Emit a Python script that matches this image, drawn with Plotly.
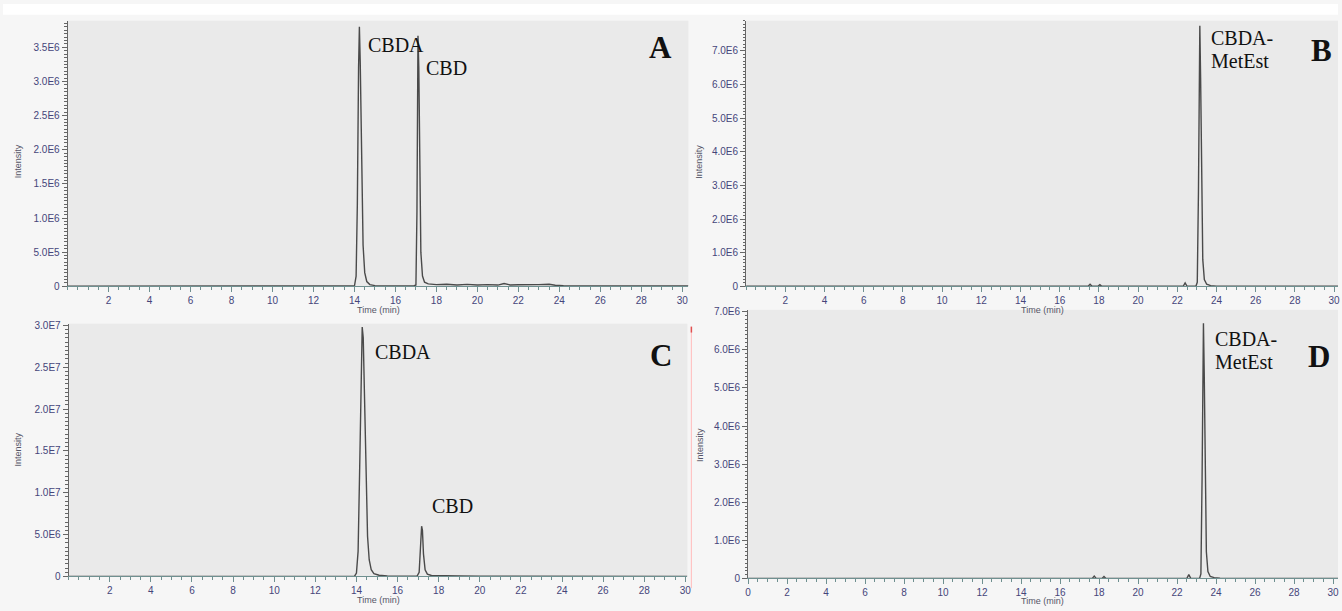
import plotly.graph_objects as go

W, H = 1342, 611

# ---------------- data ----------------
# Panel A : CBDA + CBD
time_A = [0.0, 13.9, 14.0, 14.08, 14.14, 14.2, 14.24, 14.28, 14.34, 14.42, 14.5, 14.6, 14.75, 15.0,
          16.9, 17.0, 17.05, 17.1, 17.14, 17.18, 17.24, 17.32, 17.42, 17.6, 18.0, 18.5, 19.0, 19.5,
          20.0, 20.5, 21.0, 21.3, 21.6, 22.0, 22.5, 23.0, 23.5, 23.8, 24.2, 25.0, 26.0, 27.0, 28.0, 29.0, 30.3]
int_A = [0, 0, 8e3, 1.5e5, 1.2e6, 3.2e6, 3.8e6, 3.3e6, 1.9e6, 6e5, 2e5, 7e4, 2.5e4, 1e4,
         5e3, 2e4, 1.1e6, 3.67e6, 3.2e6, 1.8e6, 5e5, 1.5e5, 6e4, 3.5e4, 2.5e4, 3e4, 2e4, 2.8e4,
         2e4, 2.5e4, 1.8e4, 4e4, 2e4, 2.2e4, 1.8e4, 2.5e4, 3e4, 1.5e4, 1e4, 8e3, 6e3, 8e3, 5e3, 6e3, 4e3]

# Panel B : CBDA methyl ester
time_B = [0.0, 17.45, 17.55, 17.65, 17.95, 18.05, 18.15, 22.3, 22.4, 22.5, 22.95, 23.02, 23.08,
          23.12, 23.15, 23.19, 23.24, 23.3, 23.38, 23.5, 23.7, 24.0, 30.2]
int_B = [0, 0, 6e4, 0, 0, 5e4, 0, 0, 1e5, 0, 0, 1.2e5, 2.8e6,
         6.8e6, 7.75e6, 6.2e6, 2.8e6, 8e5, 2e5, 6e4, 2e4, 5e3, 0]

# Panel C : CBDA + CBD
time_C = [0.0, 13.9, 14.0, 14.08, 14.15, 14.22, 14.28, 14.33, 14.39, 14.46, 14.54, 14.62, 14.72,
          14.85, 15.1, 15.5, 16.95, 17.05, 17.12, 17.17, 17.21, 17.26, 17.34, 17.45, 17.65, 18.0,
          19.0, 20.0, 22.0, 24.0, 26.0, 30.1]
int_C = [0, 0, 4e5, 3e6, 1.2e7, 2.5e7, 2.98e7, 2.85e7, 2.1e7, 1.15e7, 4.8e6, 2e6, 8e5,
         3.5e5, 1.5e5, 6e4, 4e4, 5e5, 3.6e6, 6.0e6, 5.5e6, 2.7e6, 8e5, 2.8e5, 1.2e5, 8e4,
         5e4, 4e4, 2.5e4, 1.5e4, 1e4, 5e3]

# Panel D : CBDA methyl ester
time_D = [0.0, 17.65, 17.75, 17.85, 18.15, 18.25, 18.35, 22.5, 22.6, 22.7, 23.15, 23.22, 23.28,
          23.32, 23.35, 23.39, 23.44, 23.5, 23.58, 23.7, 23.9, 24.2, 30.25]
int_D = [0, 0, 6e4, 0, 0, 5e4, 0, 0, 1e5, 0, 0, 1.2e5, 2.6e6,
         6.0e6, 6.7e6, 5.4e6, 2.4e6, 7e5, 1.8e5, 5e4, 2e4, 5e3, 0]

# tick labels
xtick_vals = [2, 4, 6, 8, 10, 12, 14, 16, 18, 20, 22, 24, 26, 28, 30]
xtick_text = ["2", "4", "6", "8", "10", "12", "14", "16", "18", "20", "22", "24", "26", "28", "30"]
xtick_vals_D = [0, 2, 4, 6, 8, 10, 12, 14, 16, 18, 20, 22, 24, 26, 28, 30]
xtick_text_D = ["0", "2", "4", "6", "8", "10", "12", "14", "16", "18", "20", "22", "24", "26", "28", "30"]

ytick_vals_A = [0, 5e5, 1e6, 1.5e6, 2e6, 2.5e6, 3e6, 3.5e6]
ytick_text_A = ["0", "5.0E5", "1.0E6", "1.5E6", "2.0E6", "2.5E6", "3.0E6", "3.5E6"]
ytick_vals_B = [0, 1e6, 2e6, 3e6, 4e6, 5e6, 6e6, 7e6]
ytick_text_B = ["0", "1.0E6", "2.0E6", "3.0E6", "4.0E6", "5.0E6", "6.0E6", "7.0E6"]
ytick_vals_C = [0, 5e6, 1e7, 1.5e7, 2e7, 2.5e7, 3e7]
ytick_text_C = ["0", "5.0E6", "1.0E7", "1.5E7", "2.0E7", "2.5E7", "3.0E7"]
ytick_vals_D = [0, 1e6, 2e6, 3e6, 4e6, 5e6, 6e6, 7e6]
ytick_text_D = ["0", "1.0E6", "2.0E6", "3.0E6", "4.0E6", "5.0E6", "6.0E6", "7.0E6"]

# ---------------- layout helpers ----------------
def fx(px):
    return px / W

def fy(py):
    return 1 - py / H

TICK_FONT = dict(family="Liberation Sans, Arial, sans-serif", size=10, color="#45457a")
XLINE = "#6f9090"
YLINE = "#666666"
TRACE = "#4a4a4a"

def xaxis(dom, rng, vals, text):
    return dict(domain=dom, range=rng, showgrid=False, zeroline=False, showline=True,
                linecolor=XLINE, linewidth=1, ticks="outside", ticklen=5, tickcolor=XLINE,
                tickmode="array", tickvals=vals, ticktext=text, tickfont=TICK_FONT,
                minor=dict(dtick=0.5, tick0=0, ticks="outside", ticklen=3, tickcolor=XLINE))

def yaxis(dom, rng, vals, text, minor_dt):
    return dict(domain=dom, range=rng, showgrid=False, zeroline=False, showline=True,
                linecolor=YLINE, linewidth=1, ticks="outside", ticklen=5, tickcolor=YLINE,
                tickmode="array", tickvals=vals, ticktext=text, tickfont=TICK_FONT,
                minor=dict(dtick=minor_dt, tick0=0, ticks="outside", ticklen=2.5, tickcolor=YLINE))

fig = go.Figure()
line = dict(color=TRACE, width=1.4)
fig.add_trace(go.Scatter(x=time_A, y=int_A, mode="lines", line=line, xaxis="x", yaxis="y", showlegend=False))
fig.add_trace(go.Scatter(x=time_B, y=int_B, mode="lines", line=line, xaxis="x2", yaxis="y2", showlegend=False))
fig.add_trace(go.Scatter(x=time_C, y=int_C, mode="lines", line=line, xaxis="x3", yaxis="y3", showlegend=False))
fig.add_trace(go.Scatter(x=time_D, y=int_D, mode="lines", line=line, xaxis="x4", yaxis="y4", showlegend=False))

fig.update_layout(
    width=W, height=H, margin=dict(l=0, r=0, t=0, b=0),
    paper_bgcolor="#f6f6f6", plot_bgcolor="#eaeaea",
    xaxis=xaxis([fx(65), fx(689)], [0, 30.3], xtick_vals, xtick_text),
    yaxis=yaxis([fy(287), fy(17)], [0, 3.89e6], ytick_vals_A, ytick_text_A, 5e4),
    xaxis2=xaxis([fx(747), 1.0], [0, 30.2], xtick_vals, xtick_text),
    yaxis2=yaxis([fy(287), fy(17)], [0, 7.9e6], ytick_vals_B, ytick_text_B, 1e5),
    xaxis3=xaxis([fx(66), fx(688)], [0, 30.1], xtick_vals, xtick_text),
    yaxis3=yaxis([fy(582), fy(325)], [0, 3.02e7], ytick_vals_C, ytick_text_C, 5e5),
    xaxis4=xaxis([fx(749), 1.0], [0, 30.25], xtick_vals_D, xtick_text_D),
    yaxis4=yaxis([fy(584), fy(311)], [0, 7.05e6], ytick_vals_D, ytick_text_D, 1e5),
)
for ax in ["", "2", "3", "4"]:
    fig.layout["xaxis" + ax].anchor = "y" + ax
    fig.layout["yaxis" + ax].anchor = "x" + ax

# white strip at the very top and pink edge mark at panel C
fig.add_shape(type="rect", xref="paper", yref="paper", x0=0, x1=1, y0=fy(11), y1=1,
              fillcolor="#ffffff", line=dict(width=0), layer="below")
fig.add_shape(type="line", xref="paper", yref="paper", x0=fx(692), x1=fx(692), y0=fy(594), y1=fy(328),
              line=dict(color="#ffc4c4", width=1.2))
fig.add_shape(type="line", xref="paper", yref="paper", x0=fx(692), x1=fx(692), y0=fy(334), y1=fy(328),
              line=dict(color="#e05050", width=1.5))

SERIF = "Liberation Serif, Times New Roman, serif"
ann = []
def label(text, x, y, size=20, bold=False, anchor="left"):
    ann.append(dict(text=("<b>%s</b>" % text) if bold else text, x=fx(x), y=fy(y), xref="paper", yref="paper",
                    xanchor=anchor, yanchor="middle", showarrow=False,
                    font=dict(family=SERIF, size=size, color="#111111")))

label("CBDA", 365, 42)
label("CBD", 423, 65)
label("A", 661, 44, size=31, bold=True, anchor="center")
label("CBDA-", 1212, 35)
label("MetEst", 1212, 58)
label("B", 1325, 47, size=31, bold=True, anchor="center")
label("CBDA", 372, 354)
label("CBD", 429, 510)
label("C", 661, 357, size=31, bold=True, anchor="center")
label("CBDA-", 1216, 341)
label("MetEst", 1216, 364)
label("D", 1323, 358, size=31, bold=True, anchor="center")

SMALL = dict(family="Liberation Sans, Arial, sans-serif", size=9, color="#555566")
for (x, y) in [(15, 160), (700, 160), (15, 453), (700, 448)]:
    ann.append(dict(text="Intensity", x=fx(x), y=fy(y), xref="paper", yref="paper", textangle=-90,
                    xanchor="center", yanchor="middle", showarrow=False, font=SMALL))
for (x, y) in [(377, 311), (1045, 311), (377, 606), (1045, 606.5)]:
    ann.append(dict(text="Time (min)", x=fx(x), y=fy(y), xref="paper", yref="paper",
                    xanchor="center", yanchor="middle", showarrow=False, font=SMALL))
fig.update_layout(annotations=ann)

# remove the default page margin so the figure sits at the window's top-left corner
fig.write_html("out.html", config={"displayModeBar": False},
               post_script="document.body.style.margin='0px';document.body.style.overflow='hidden';")
